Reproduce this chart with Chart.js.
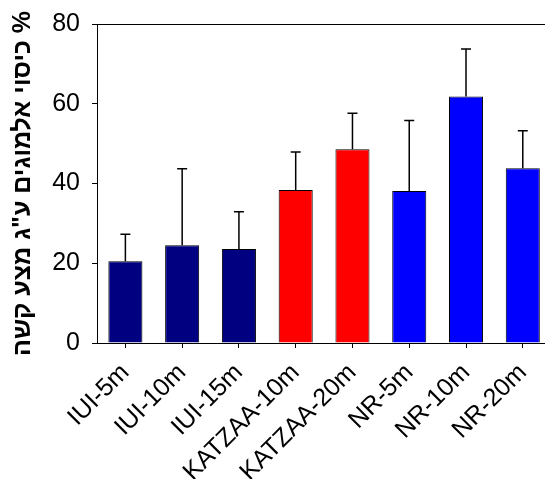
<!DOCTYPE html>
<html>
<head>
<meta charset="utf-8">
<script src="https://cdn.jsdelivr.net/npm/chart.js@4/dist/chart.umd.min.js"></script>
<style>
  html, body { margin: 0; padding: 0; background: #fff; overflow: hidden; }
  #wrap { width: 554px; height: 479px; }
</style>
</head>
<body>
<div id="wrap"><canvas id="myChart"></canvas></div>
<script>
const sites = ['IUI-5m', 'IUI-10m', 'IUI-15m', 'KATZAA-10m', 'KATZAA-20m', 'NR-5m', 'NR-10m', 'NR-20m'];
const cover = [20.5, 24.5, 23.6, 38.4, 48.6, 38.1, 61.8, 43.8];
const coverSE = [6.8, 19.2, 9.3, 9.5, 9.0, 17.7, 11.9, 9.4];
const siteColors = ['#000080', '#000080', '#000080', '#FF0000', '#FF0000', '#0000FF', '#0000FF', '#0000FF'];
const yTicks = [0, 20, 40, 60, 80];
const yTitle = 'כיסוי אלמוגים ע"ג מצע קשה %';

// upward error bars with a cap, drawn from the bar top
const errorBars = {
  id: 'errorBars',
  afterDatasetsDraw(chart) {
    const ctx = chart.ctx;
    const y = chart.scales.y;
    const meta = chart.getDatasetMeta(0);
    ctx.save();
    ctx.strokeStyle = '#000';
    ctx.lineWidth = 1.5;
    meta.data.forEach((bar, i) => {
      const top = y.getPixelForValue(cover[i] + coverSE[i]);
      const base = y.getPixelForValue(cover[i]);
      ctx.beginPath();
      ctx.moveTo(bar.x, base);
      ctx.lineTo(bar.x, top);
      ctx.moveTo(bar.x - 5, top);
      ctx.lineTo(bar.x + 5, top);
      ctx.stroke();
    });
    ctx.restore();
  }
};

// top frame line
const frameTop = {
  id: 'frameTop',
  afterDraw(chart) {
    const { ctx, chartArea } = chart;
    ctx.save();
    ctx.strokeStyle = '#000';
    ctx.lineWidth = 1;
    ctx.beginPath();
    ctx.moveTo(chartArea.left, Math.round(chartArea.top) + 0.5);
    ctx.lineTo(chartArea.right, Math.round(chartArea.top) + 0.5);
    ctx.stroke();
    ctx.restore();
  }
};

const ctx = document.getElementById('myChart').getContext('2d');
const data = {
  labels: sites,
  datasets: [
    {
      data: cover,
      backgroundColor: siteColors,
      borderColor: '#000',
      borderWidth: 1,
      barPercentage: 0.6,
      categoryPercentage: 1,
    },
  ],
};
const config = {
  type: 'bar',
  data: data,
  options: {
    responsive: true,
    maintainAspectRatio: false,
    animation: false,
    layout: { padding: { top: 24, left: 0, right: 0, bottom: 0 } },
    plugins: {
      legend: { display: false },
      tooltip: { enabled: false },
    },
    scales: {
      x: {
        afterFit(axis) {
          axis.height = 136;
        },
        grid: { drawOnChartArea: false, offset: false, color: '#000', tickLength: 5 },
        border: { color: '#000', width: 1 },
        ticks: {
          color: '#000',
          font: { family: 'Liberation Sans, Arial', size: 25 },
          minRotation: 45,
          maxRotation: 45,
          padding: 10,
        },
      },
      y: {
        min: 0,
        max: 80,
        afterBuildTicks(axis) {
          axis.ticks = yTicks.map((v) => ({ value: v }));
        },
        afterFit(axis) {
          axis.width = 97;
          axis.paddingTop = 0;
          axis.paddingBottom = 0;
        },
        grid: { drawOnChartArea: false, color: '#000', tickLength: 5 },
        border: { color: '#000', width: 1 },
        ticks: {
          color: '#000',
          font: { family: 'Liberation Sans, Arial', size: 25 },
          padding: 12,
        },
        title: {
          display: true,
          text: yTitle,
          color: '#000',
          font: { family: 'Liberation Sans, Arial', size: 25, weight: 'bold' },
          padding: { top: 8, bottom: 0 },
        },
      },
    },
  },
  plugins: [errorBars, frameTop],
};

const myChart = new Chart(ctx, config);
</script>
</body>
</html>
